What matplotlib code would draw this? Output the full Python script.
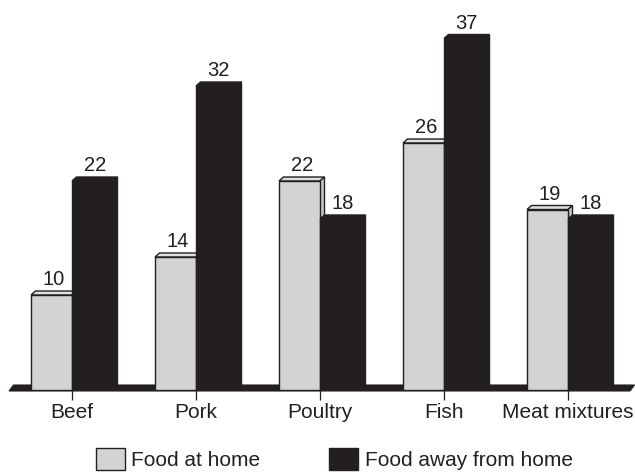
import matplotlib
matplotlib.use("Agg")
import matplotlib.pyplot as plt
from matplotlib.patches import Polygon, Patch

plt.rcParams['font.family'] = ['Liberation Sans', 'DejaVu Sans']

categories = ['Beef', 'Pork', 'Poultry', 'Fish', 'Meat mixtures']
home = [10, 14, 22, 26, 19]
away = [22, 32, 18, 37, 18]
series_names = ['Food at home', 'Food away from home']

light = '#d1d3d4'
light_top = '#dedfdf'
light_side = '#c4c6c7'
dark = '#231f20'
ink = '#231f20'

W, H = 635, 472
fig = plt.figure(figsize=(W / 100, H / 100), dpi=100)
# axes: full width, from baseline (py=390) to top
ax = fig.add_axes([0, (H - 390) / H, 1, 390 / H])
px_x = 124.0          # pixels per category step
px_y = 9.5            # pixels per unit
ax.set_xlim(-72 / px_x, (W - 72) / px_x)
ax.set_ylim(0, 390 / px_y)
for s in ax.spines.values():
    s.set_visible(False)
ax.set_yticks([])

bw = 41 / px_x        # bar width
dx = 4.5 / px_x       # depth offset
dy = 4 / px_y

x = list(range(len(categories)))

# floor slab
fl, fr = (9 - 72) / px_x, (630 - 72) / px_x
floor = Polygon([(fl, -1 / px_y), (fr, -1 / px_y), (fr + dx, 5 / px_y), (fl + dx, 5 / px_y)],
                closed=True, facecolor=dark, edgecolor=dark, lw=0.8, zorder=1, clip_on=False)
ax.add_patch(floor)


def bar3d(x0, h, top, side, zo):
    ax.add_patch(Polygon([(x0, h), (x0 + bw, h), (x0 + bw + dx, h + dy), (x0 + dx, h + dy)],
                         closed=True, facecolor=top, edgecolor=dark, lw=1, zorder=zo))
    ax.add_patch(Polygon([(x0 + bw, 0), (x0 + bw + dx, dy), (x0 + bw + dx, h + dy), (x0 + bw, h)],
                         closed=True, facecolor=side, edgecolor=dark, lw=1, zorder=zo))


for i in x:
    bar3d(i - bw, home[i], light_top, light_side, 2)
    bar3d(i, away[i], dark, dark, 4)
ax.bar([i - bw / 2 for i in x], home, width=bw, color=light, edgecolor=dark, lw=1, zorder=3)
ax.bar([i + bw / 2 for i in x], away, width=bw, color=dark, edgecolor=dark, lw=1, zorder=5)

for i in x:
    ax.text(i - bw / 2 + dx / 2, home[i] + dy + 2 / px_y, str(home[i]), ha='center', va='bottom',
            fontsize=14.5, color=ink, zorder=6)
    ax.text(i + bw / 2 + dx / 2, away[i] + dy + 2 / px_y, str(away[i]), ha='center', va='bottom',
            fontsize=14.5, color=ink, zorder=6)

ax.set_xticks(x)
ax.set_xticklabels(categories, fontsize=15, color=ink)
ax.tick_params(axis='x', length=7, width=0.9, color=ink, pad=2.5)

handles = [Patch(facecolor=light, edgecolor=dark, lw=1), Patch(facecolor=dark, edgecolor=dark, lw=1)]
fig.legend(handles, series_names, loc='lower left', bbox_to_anchor=(96 / W, 2 / H), ncol=2,
           frameon=False, fontsize=15, handlelength=1.4, handleheight=1.2,
           handletextpad=0.3, columnspacing=3.3, borderpad=0, borderaxespad=0,
           labelcolor=ink)

fig.savefig('out.png', dpi=100)
